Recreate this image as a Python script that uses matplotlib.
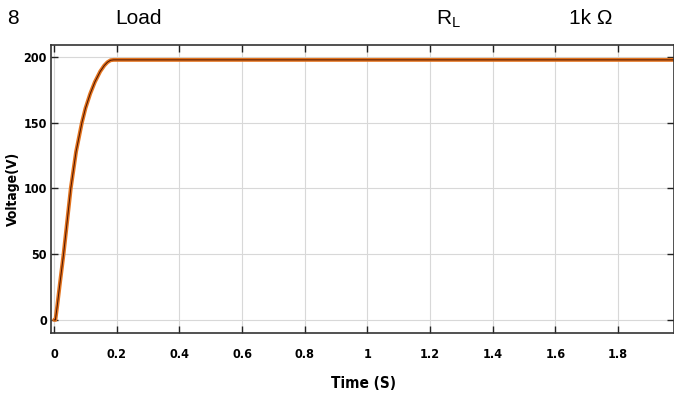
import os
import matplotlib
matplotlib.use("Agg")
import matplotlib.pyplot as plt
from matplotlib import font_manager as fm

# time (s) and load voltage (V)
t = [0, 0.004, 0.01, 0.018, 0.03, 0.042, 0.053, 0.07, 0.0885, 0.10, 0.115,
     0.13, 0.147, 0.16, 0.17, 0.18, 0.19, 0.2, 0.5, 1.0, 1.5, 1.98]
v = [0, 0, 11, 27, 50, 76, 100, 128, 150, 161, 172,
     181, 189, 193.5, 196, 197.5, 197.8, 197.8, 197.8, 197.8, 197.8, 197.8]

xticks = [0, 0.2, 0.4, 0.6, 0.8, 1, 1.2, 1.4, 1.6, 1.8]
xticklabels = ["0", "0.2", "0.4", "0.6", "0.8", "1", "1.2", "1.4", "1.6", "1.8"]
yticks = [0, 50, 100, 150, 200]


def narrow_bold():
    # look for a condensed bold face, the plot labels are very narrow
    wanted = ["liberationsansnarrow-bold.", "notosans-condensedbold.",
              "dejavusanscondensed-bold.", "roboto_condensed-bold", "robotocondensed-bold",
              "notosans-semicondensedbold."]
    files = {os.path.basename(f.fname).lower(): f.fname for f in fm.fontManager.ttflist}
    for w in wanted:
        for name, path in files.items():
            if name.startswith(w):
                return fm.FontProperties(fname=path)
    return fm.FontProperties(family="DejaVu Sans", weight="bold", stretch="condensed")


nb = narrow_bold()
plt.rcParams["font.family"] = ["Liberation Sans", "DejaVu Sans"]

fig = plt.figure(figsize=(6.74, 3.96), dpi=100)
ax = fig.add_axes([0.0757, 0.159, 0.925, 0.727])

ax.plot(t, v, color="#E3741F", lw=2.8, solid_capstyle="round")
ax.plot(t, v, color="#4a1200", lw=0.7)

ax.set_xlim(-0.01, 1.98)
ax.set_ylim(-10, 209)
ax.set_xticks(xticks)
ax.set_xticklabels(xticklabels)
ax.set_yticks(yticks)
ax.grid(True, color="#d8d8d8", lw=0.8)
ax.tick_params(direction="in", length=5, width=1.0, color="#222222",
               top=True, right=True)
ax.tick_params(axis="x", pad=11)
ax.tick_params(axis="y", pad=3)
for lab in ax.get_xticklabels() + ax.get_yticklabels():
    lab.set_fontproperties(nb)
    lab.set_fontsize(9)
for s in ax.spines.values():
    s.set_color("#333333")
    s.set_linewidth(1.2)

ax.set_xlabel("Time (S)", fontproperties=nb, fontsize=11)
ax.set_ylabel("Voltage(V)", fontproperties=nb, fontsize=10)
ax.xaxis.set_label_coords(0.502, -0.15)
ax.yaxis.set_label_coords(-0.05, 0.5)

# header row above the plot
hy = 1 - 19 / 396
fig.text(7 / 674, hy, "8", fontsize=15, va="center")
fig.text(115 / 674, hy, "Load", fontsize=15, va="center")
fig.text(436 / 674, hy, "R$_\\mathregular{L}$", fontsize=15, va="center")
fig.text(569 / 674, hy, "1k \u03a9", fontsize=15, va="center")

fig.savefig("out.png", dpi=100)
